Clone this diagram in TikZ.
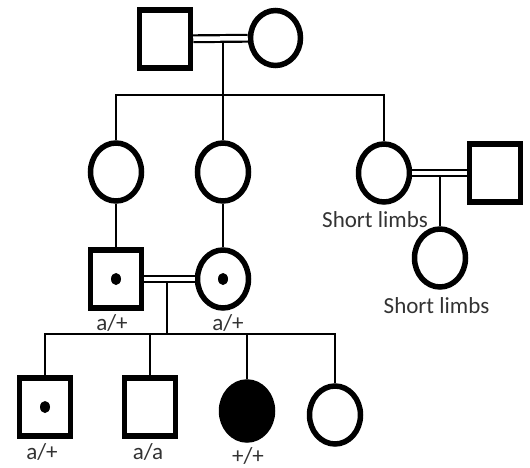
\documentclass[tikz,border=0pt]{standalone}
\usepackage{fontspec}
\setmainfont{Carlito}
\usetikzlibrary{shapes.geometric}
\begin{document}
\begin{tikzpicture}[x=1pt,y=-1pt,
 male/.style={draw, rectangle, line width=5.5pt, minimum width=51pt, minimum height=58pt, inner sep=0pt},
 female/.style={draw, ellipse, line width=5.5pt, minimum width=51pt, minimum height=58pt, inner sep=0pt},
 conn/.style={line width=2.3pt},
 mar/.style={double, double distance=4.5pt, line width=2.2pt},
 lab/.style={font=\fontsize{23}{23}\selectfont, text=black!80, anchor=base, inner sep=0pt},
 dotc/.style={fill, ellipse, minimum width=10pt, minimum height=12pt, inner sep=0pt}
]
\useasboundingbox (0,0) rectangle (530,468);
% generation I
\node[male] (GF) at (165,39) {};
\node[female, minimum width=50pt, minimum height=55pt] (GM) at (275.5,38) {};
\draw[mar] (GF) -- (GM);
\coordinate (m1) at (223,41);
\coordinate (s1) at (223,95);
\draw[conn] (m1) -- (s1);
% generation II
\node[female] (A) at (116,172) {};
\node[female] (B) at (223,172) {};
\node[female] (C) at (384,173) {};
\node[male] (D) at (495,173) {};
\draw[conn] (A.north) -- (A.north |- s1) -- (C.north |- s1) -- (C.north);
\draw[conn] (s1) -- (B.north);
\draw[mar] (C) -- (D);
\node[female] (E) at (440,258) {};
\coordinate (m2) at (440,176);
\draw[conn] (m2) -- (E.north);
\node[lab] (l1) at (375,227) {Short limbs};
\node[lab] (l2) at (436.5,313) {Short limbs};
% generation III
\node[male] (F) at (116,279) {};
\node[female] (G) at (223,279) {};
\node[dotc] (Fd) at (F) {};
\node[dotc] (Gd) at (G) {};
\draw[conn] (A.south) -- (F.north);
\draw[conn] (B.south) -- (G.north);
\draw[mar] (F) -- (G);
\coordinate (m3) at (167,282);
\coordinate (s3) at (167,334);
\draw[conn] (m3) -- (s3);
\node[lab] (l3) at (112,330) {a/+};
\node[lab] (l4) at (228,330) {a/+};
% generation IV
\node[male] (K1) at (45,407) {};
\node[male] (K2) at (150,407) {};
\node[female, fill=black] (K3) at (247,411) {};
\node[female] (K4) at (335,415) {};
\node[dotc] (K1d) at (K1) {};
\draw[conn] (K1.north) -- (K1.north |- s3) -- (K4.north |- s3) -- (K4.north);
\draw[conn] (K2.north) -- (K2.north |- s3);
\draw[conn] (K3.north) -- (K3.north |- s3);
\node[lab] (l5) at (42,459) {a/+};
\node[lab] (l6) at (148,459) {a/a};
\node[lab] (l7) at (248,463) {+/+};
\end{tikzpicture}
\end{document}
